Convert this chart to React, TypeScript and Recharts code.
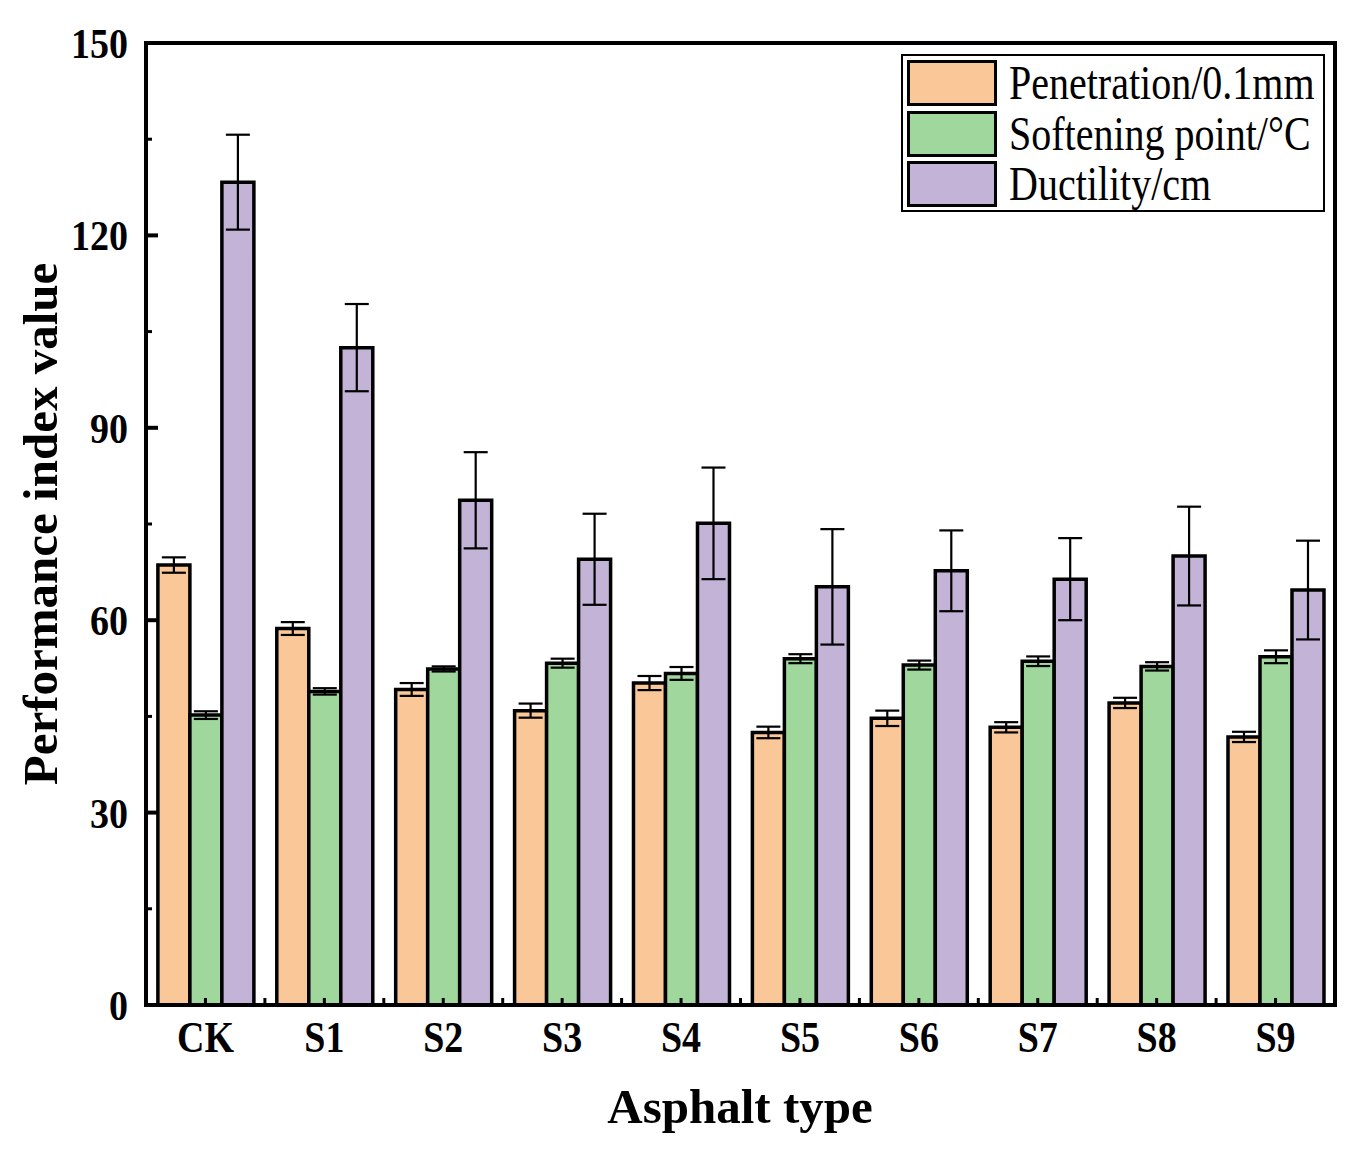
import React from "react";
import { BarChart, Bar, XAxis, YAxis, ErrorBar, Legend, ReferenceArea, Label } from "recharts";

const categories = ["CK", "S1", "S2", "S3", "S4", "S5", "S6", "S7", "S8", "S9"];
const penetration = [68.6, 58.7, 49.2, 45.9, 50.2, 42.5, 44.7, 43.3, 47.1, 41.8];
const penetrationErr = [1.2, 1.0, 1.0, 1.1, 1.1, 0.9, 1.2, 0.8, 0.8, 0.8];
const softening = [45.2, 48.9, 52.4, 53.3, 51.7, 54.0, 53.0, 53.6, 52.8, 54.3];
const softeningErr = [0.6, 0.5, 0.4, 0.7, 1.0, 0.7, 0.7, 0.75, 0.65, 1.0];
const ductility = [128.3, 102.5, 78.7, 69.5, 75.1, 65.2, 67.7, 66.4, 70.0, 64.7];
const ductilityErr = [7.4, 6.8, 7.5, 7.1, 8.7, 9.0, 6.3, 6.4, 7.7, 7.7];
const yTicks = [0, 15, 30, 45, 60, 75, 90, 105, 120, 135, 150];

const series = [
  { key: "pen", err: "penErr", name: "Penetration/0.1mm", color: "#FAC898" },
  { key: "soft", err: "softErr", name: "Softening point/°C", color: "#9FD79D" },
  { key: "duc", err: "ducErr", name: "Ductility/cm", color: "#C3B4D7" },
];

const data = categories.map((name, i) => ({
  name,
  pen: penetration[i],
  penErr: penetrationErr[i],
  soft: softening[i],
  softErr: softeningErr[i],
  duc: ductility[i],
  ducErr: ductilityErr[i],
}));

const FONT = "'Liberation Serif', 'Times New Roman', serif";
const W = 1359;
const H = 1151;
const PLOT_LEFT = 146;
const PLOT_RIGHT = 1335;
const band = (PLOT_RIGHT - PLOT_LEFT) / categories.length;

const XTick = (props: any) => {
  const { x, y, payload, index } = props;
  return (
    <g>
      <line x1={x} x2={x} y1={y} y2={y - 7} stroke="#000" strokeWidth={3} />
      {index < categories.length - 1 && (
        <line x1={x + band / 2} x2={x + band / 2} y1={y} y2={y - 7} stroke="#000" strokeWidth={3} />
      )}
      <text
        transform={`translate(${x},${y + 47}) scale(1,1.18)`}
        textAnchor="middle"
        fontFamily={FONT}
        fontWeight="bold"
        fontSize={38}
        fill="#000"
      >
        {payload.value}
      </text>
    </g>
  );
};

const YTick = (props: any) => {
  const { x, y, payload } = props;
  const axisX = x + 18;
  const major = payload.value % 30 === 0;
  return (
    <g>
      <line x1={axisX} x2={axisX + (major ? 12 : 6)} y1={y} y2={y} stroke="#000" strokeWidth={major ? 4 : 3} />
      {major && (
        <text
          transform={`translate(${x},${y}) scale(1,1.1)`}
          dy="0.36em"
          textAnchor="end"
          fontFamily={FONT}
          fontWeight="bold"
          fontSize={38}
          fill="#000"
        >
          {payload.value}
        </text>
      )}
    </g>
  );
};

const LegendBox = () => (
  <div
    style={{
      width: 424,
      height: 158,
      boxSizing: "border-box",
      border: "2px solid #000",
      background: "#fff",
      padding: "4px 0 0 4px",
      fontFamily: FONT,
    }}
  >
    {series.map((s) => (
      <div key={s.key} style={{ display: "flex", alignItems: "center", height: 46, marginBottom: 4.5 }}>
        <div
          style={{
            width: 90,
            height: 46,
            boxSizing: "border-box",
            border: "3px solid #000",
            background: s.color,
          }}
        />
        <span
          style={{
            display: "inline-block",
            marginLeft: 12,
            fontSize: 40,
            lineHeight: "46px",
            color: "#000",
            whiteSpace: "nowrap",
            transform: "scaleY(1.2)",
            transformOrigin: "left center",
          }}
        >
          {s.name}
        </span>
      </div>
    ))}
  </div>
);

export default function App() {
  return (
    <div style={{ position: "absolute", left: 0, top: 0, width: W, height: H, background: "#fff" }}>
      <BarChart
        width={W}
        height={H}
        data={data}
        margin={{ top: 43, right: W - PLOT_RIGHT, bottom: 86, left: PLOT_LEFT - 80 }}
        barCategoryGap="10%"
        barGap={0}
      >
        <ReferenceArea y1={0} y2={150} fill="none" stroke="#000" strokeWidth={4} ifOverflow="visible" />
        {series.map((s) => (
          <Bar
            key={s.key}
            dataKey={s.key}
            name={s.name}
            fill={s.color}
            stroke="#000"
            strokeWidth={3.5}
            isAnimationActive={false}
          >
            <ErrorBar dataKey={s.err} width={12} stroke="#000" strokeWidth={2.2} direction="y" isAnimationActive={false} />
          </Bar>
        ))}
        <XAxis
          dataKey="name"
          height={60}
          interval={0}
          axisLine={{ stroke: "#000", strokeWidth: 4 }}
          tickLine={false}
          tickSize={0}
          tickMargin={0}
          tick={<XTick />}
        >
          <Label
            content={() => (
              <text x={740} y={1123} textAnchor="middle" fontFamily={FONT} fontWeight="bold" fontSize={49} fill="#000">
                Asphalt type
              </text>
            )}
          />
        </XAxis>
        <YAxis
          width={80}
          domain={[0, 150]}
          ticks={yTicks}
          interval={0}
          allowDataOverflow
          axisLine={{ stroke: "#000", strokeWidth: 4 }}
          tickLine={false}
          tickSize={0}
          tickMargin={18}
          tick={<YTick />}
        >
          <Label
            content={() => (
              <text
                transform="translate(57,524) rotate(-90)"
                textAnchor="middle"
                fontFamily={FONT}
                fontWeight="bold"
                fontSize={49}
                fill="#000"
              >
                Performance index value
              </text>
            )}
          />
        </YAxis>
        <Legend
          layout="vertical"
          align="center"
          verticalAlign="middle"
          wrapperStyle={{ position: "absolute", left: 901, top: 54, width: 424, height: 158 }}
          content={() => <LegendBox />}
        />
      </BarChart>
    </div>
  );
}
